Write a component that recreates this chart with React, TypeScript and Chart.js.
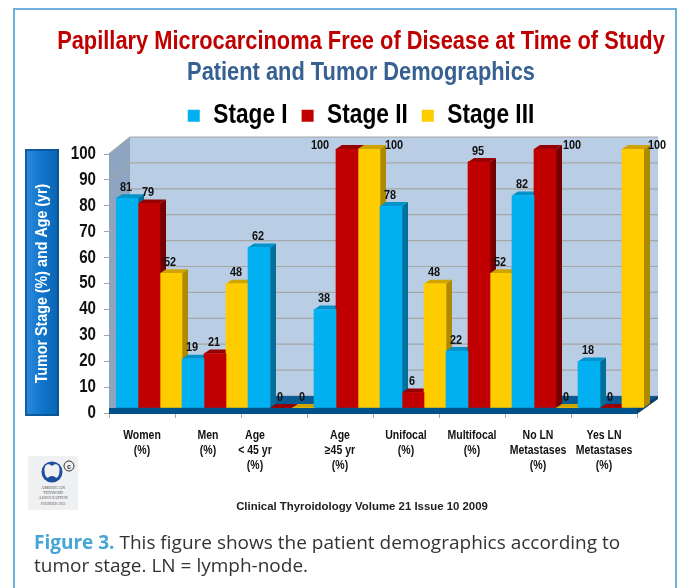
import React, { useEffect, useRef } from "react";
import { Chart, registerables } from "chart.js";

Chart.register(...registerables);

const categories = [
  ["Women", "(%)"],
  ["Men", "(%)"],
  ["Age", "< 45 yr", "(%)"],
  ["Age", "≥45 yr", "(%)"],
  ["Unifocal", "(%)"],
  ["Multifocal", "(%)"],
  ["No LN", "Metastases", "(%)"],
  ["Yes LN", "Metastases", "(%)"],
];
const stageI = [81, 19, 62, 38, 78, 22, 82, 18];
const stageII = [79, 21, 0, 100, 6, 95, 100, 0];
const stageIII = [52, 48, 0, 100, 48, 52, 0, 100];

const NARROW = '"Liberation Sans", Arial, sans-serif';
const SQUEEZE = 0.84;
const DEPTH_X = 21;
const DEPTH_Y = 17;
const BAR_DX = 7;
const BAR_DY = -5;
const SIDE_X = 6;
const SIDE_Y = 4;

const sideColors = ["#006f9c", "#760000", "#ae8a00"];
const topColors = ["#0092c8", "#960000", "#d0a400"];

// label nudges for the "100" labels, which sit beside their bars
const labelNudge: Record<string, [number, number]> = {
  "1-3": [-26, 7],
  "2-3": [26, 7],
  "1-6": [28, 7],
  "2-7": [25, 7],
};

// The reference uses a condensed face; none is installed, so canvas text is condensed horizontally.
const condense = (ctx: any) => {
  if (ctx.__condensed) return;
  ctx.__condensed = true;
  const fill = ctx.fillText.bind(ctx);
  const measure = ctx.measureText.bind(ctx);
  ctx.fillText = (t: string, x: number, y: number, mw?: number) => {
    const w = measure(t).width * SQUEEZE;
    fill(t, x, y, mw === undefined ? w : Math.min(w, mw));
  };
  ctx.measureText = (t: string) => {
    const m = measure(t);
    return {
      width: m.width * SQUEEZE,
      actualBoundingBoxAscent: m.actualBoundingBoxAscent,
      actualBoundingBoxDescent: m.actualBoundingBoxDescent,
      actualBoundingBoxLeft: m.actualBoundingBoxLeft * SQUEEZE,
      actualBoundingBoxRight: m.actualBoundingBoxRight * SQUEEZE,
    };
  };
};

const poly = (ctx: CanvasRenderingContext2D, pts: number[][], fill: string) => {
  ctx.beginPath();
  pts.forEach(([x, y], i) => (i ? ctx.lineTo(x, y) : ctx.moveTo(x, y)));
  ctx.closePath();
  ctx.fillStyle = fill;
  ctx.fill();
};

const scene3d = {
  id: "scene3d",
  beforeLayout(chart: any) {
    const legend = chart.legend;
    if (!legend.__fitWrapped) {
      legend.__fitWrapped = true;
      const fit = legend.fit;
      legend.fit = function () {
        fit.call(this);
        this.height = 67.7;
      };
    }
  },
  afterLayout(chart: any) {
    const x = chart.scales.x;
    x._labelItems = null;
    const items = x.getLabelItems(chart.chartArea);
    if (items[2]) items[2].options.translation[0] -= 19;
    // tick labels overhang the narrow axis box
    chart.scales.y.left = 60;
    chart.legend.top += 2;
    chart.titleBlock.left -= 40;
    chart.titleBlock.right += 40;
  },
  beforeDraw(chart: any) {
    const { ctx, chartArea: a } = chart;
    const bx = 25;
    const bw = 34;
    const top = a.top - 5;
    const h = a.bottom - a.top + 8;
    const g = ctx.createLinearGradient(bx, 0, bx + bw, 0);
    g.addColorStop(0, "#2f8bdc");
    g.addColorStop(0.5, "#0f75cc");
    g.addColorStop(1, "#0a64b0");
    ctx.save();
    ctx.fillStyle = g;
    ctx.fillRect(bx, top, bw, h);
    ctx.strokeStyle = "#0a4f8c";
    ctx.lineWidth = 1.5;
    ctx.strokeRect(bx + 1, top + 1, bw - 2, h - 2);
    ctx.restore();
  },
  beforeDatasetsDraw(chart: any) {
    const { ctx, chartArea: a, scales } = chart;
    const y0 = a.bottom;
    const yT = a.top;
    ctx.save();
    poly(ctx, [[a.left, yT], [a.left + DEPTH_X, yT - DEPTH_Y], [a.left + DEPTH_X, y0 - DEPTH_Y], [a.left, y0]], "#8ea5c2");
    poly(ctx, [[a.left + DEPTH_X, yT - DEPTH_Y], [a.right + DEPTH_X, yT - DEPTH_Y], [a.right + DEPTH_X, y0 - DEPTH_Y], [a.left + DEPTH_X, y0 - DEPTH_Y]], "#b9cde5");
    ctx.strokeStyle = "#a6a6a6";
    ctx.lineWidth = 1.2;
    scales.y.ticks.forEach((t: any) => {
      const py = scales.y.getPixelForValue(t.value);
      ctx.beginPath();
      ctx.moveTo(a.left, py);
      ctx.lineTo(a.left + DEPTH_X, py - DEPTH_Y);
      ctx.lineTo(a.right + DEPTH_X, py - DEPTH_Y);
      ctx.stroke();
    });
    poly(ctx, [[a.left, y0], [a.left + DEPTH_X, y0 - DEPTH_Y], [a.right + DEPTH_X, y0 - DEPTH_Y], [a.right, y0]], "#0a5a94");
    poly(ctx, [[a.left, y0 - 5], [a.right, y0 - 5], [a.right, y0 + 1], [a.left, y0 + 1]], "#00508c");
    poly(ctx, [[a.right, y0 - 5], [a.right + DEPTH_X, y0 - DEPTH_Y], [a.right + DEPTH_X, y0 - DEPTH_Y + 3], [a.right, y0 + 1]], "#0a3f6c");

    const bars: any[] = [];
    chart.data.datasets.forEach((_: any, d: number) => {
      chart.getDatasetMeta(d).data.forEach((el: any, i: number) => bars.push({ el, d, order: i * 3 + d }));
    });
    bars.sort((p, q) => p.order - q.order);
    ctx.translate(BAR_DX, BAR_DY);
    bars.forEach(({ el, d }) => {
      const l = el.x - el.width / 2;
      const r = el.x + el.width / 2;
      poly(ctx, [[r, el.y], [r + SIDE_X, el.y - SIDE_Y], [r + SIDE_X, el.base - SIDE_Y], [r, el.base]], sideColors[d]);
      poly(ctx, [[l, el.y], [l + SIDE_X, el.y - SIDE_Y], [r + SIDE_X, el.y - SIDE_Y], [r, el.y]], topColors[d]);
    });
    ctx.restore();
    ctx.save();
    ctx.translate(BAR_DX, BAR_DY);
  },
  afterDatasetsDraw(chart: any) {
    const { ctx } = chart;
    ctx.restore();
    ctx.save();
    ctx.font = `bold 13px ${NARROW}`;
    ctx.fillStyle = "#111";
    ctx.textAlign = "center";
    ctx.textBaseline = "middle";
    chart.data.datasets.forEach((ds: any, d: number) => {
      chart.getDatasetMeta(d).data.forEach((el: any, i: number) => {
        const [nx, ny] = labelNudge[`${d}-${i}`] || [0, 0];
        ctx.fillText(String(ds.data[i]), el.x + BAR_DX - 1 + nx, el.y + BAR_DY - 11 + ny);
      });
    });
    ctx.restore();
  },
};

export default function App() {
  const ref = useRef<HTMLCanvasElement>(null);
  useEffect(() => {
    const canvas = ref.current as HTMLCanvasElement;
    condense(canvas.getContext("2d"));
    const chart = new Chart(canvas, {
      type: "bar",
      data: {
        labels: categories as any,
        datasets: [
          { label: "Stage I", data: stageI, backgroundColor: "#00b0f0", borderWidth: 0 },
          { label: "Stage II", data: stageII, backgroundColor: "#c00000", borderWidth: 0 },
          { label: "Stage III", data: stageIII, backgroundColor: "#ffcc00", borderWidth: 0 },
        ],
      },
      options: {
        responsive: false,
        animation: false,
        events: [],
        datasets: { bar: { categoryPercentage: 1, barPercentage: 1 } },
        layout: { padding: { left: 85, right: 45, top: 28, bottom: 57 } },
        plugins: {
          tooltip: { enabled: false },
          title: {
            display: true,
            text: "Papillary Microcarcinoma Free of Disease at Time of Study",
            color: "#c00000",
            font: { family: NARROW, weight: "bold", size: 26, lineHeight: 1.05 },
            padding: { top: 0, bottom: 3.7 },
          },
          subtitle: {
            display: true,
            text: "Patient and Tumor Demographics",
            color: "#376092",
            font: { family: NARROW, weight: "bold", size: 26, lineHeight: 1.05 },
            padding: { top: 0, bottom: 0 },
          },
          legend: {
            position: "top",
            labels: {
              boxWidth: 12,
              boxHeight: 12,
              padding: 14,
              color: "#000",
              font: { family: NARROW, weight: "bold", size: 27 },
            },
          },
        },
        scales: {
          x: {
            grid: { drawOnChartArea: false, drawTicks: true, tickLength: 5, color: "#a6a6a6" },
            border: { display: false },
            ticks: {
              maxRotation: 0,
              autoSkip: false,
              padding: 10,
              color: "#111",
              font: { family: NARROW, weight: "bold", size: 12.5 },
            },
            afterFit: (s: any) => {
              s.height = 118;
            },
          } as any,
          y: {
            min: 0,
            max: 100,
            grid: { drawOnChartArea: false, drawTicks: true, tickLength: 5, color: "#a6a6a6" },
            border: { display: false },
            title: {
              display: true,
              text: "Tumor Stage (%) and Age (yr)",
              color: "#fff",
              font: { family: NARROW, weight: "bold", size: 17 },
              padding: { top: -28, bottom: 0 },
            },
            ticks: {
              stepSize: 10,
              padding: 8,
              color: "#111",
              font: { family: NARROW, weight: "bold", size: 18 },
            },
            afterFit: (s: any) => {
              s.width = 24;
            },
          } as any,
        },
      } as any,
      plugins: [scene3d],
    });
    return () => chart.destroy();
  }, []);

  return (
    <div style={{ position: "absolute", left: 0, top: 0, width: 682, height: 588, overflow: "hidden", background: "#fff" }}>
      <div style={{ position: "absolute", left: 13, top: 8, width: 660, height: 600, border: "2px solid #6db0de" }} />
      <canvas ref={ref} width={682} height={588} style={{ position: "absolute", left: 0, top: 0 }} />
      <svg width="50" height="54" viewBox="0 0 50 54" style={{ position: "absolute", left: 28, top: 456 }}>
        <rect width="50" height="54" fill="#eef0f2" />
        <circle cx="24" cy="16" r="10.5" fill="#1f4f9c" />
        <path d="M24 10 C20 6 16 9 16.5 15 C17 21 19 23 21 21 C22.5 19.5 25.5 19.5 27 21 C29 23 31 21 31.5 15 C32 9 28 6 24 10 Z" fill="#eef0f2" />
        <circle cx="41" cy="10" r="5" fill="none" stroke="#333" strokeWidth="1" />
        <text x="41" y="12.5" fontSize="7" textAnchor="middle" fill="#333" fontFamily="Liberation Sans" fontWeight="bold">c</text>
        <g fontFamily="Liberation Serif" fontSize="4.5" fill="#555" textAnchor="middle">
          <text x="25" y="33">AMERICAN</text>
          <text x="25" y="38">THYROID</text>
          <text x="25" y="43">ASSOCIATION</text>
          <text x="25" y="49" fontSize="3.5">FOUNDED 1923</text>
        </g>
      </svg>
      <div style={{ position: "absolute", left: 162, width: 400, top: 500, textAlign: "center", fontFamily: "Liberation Sans", fontWeight: "bold", fontSize: 11.4, color: "#222" }}>
        Clinical Thyroidology Volume 21 Issue 10 2009
      </div>
      <div style={{ position: "absolute", left: 34, top: 531, width: 630, fontFamily: "Open Sans", fontSize: 19, lineHeight: "23px", color: "#333" }}>
        <b style={{ color: "#45a5d6" }}>Figure 3.</b> This figure shows the patient demographics according to<br />tumor stage. LN = lymph-node.
      </div>
    </div>
  );
}
